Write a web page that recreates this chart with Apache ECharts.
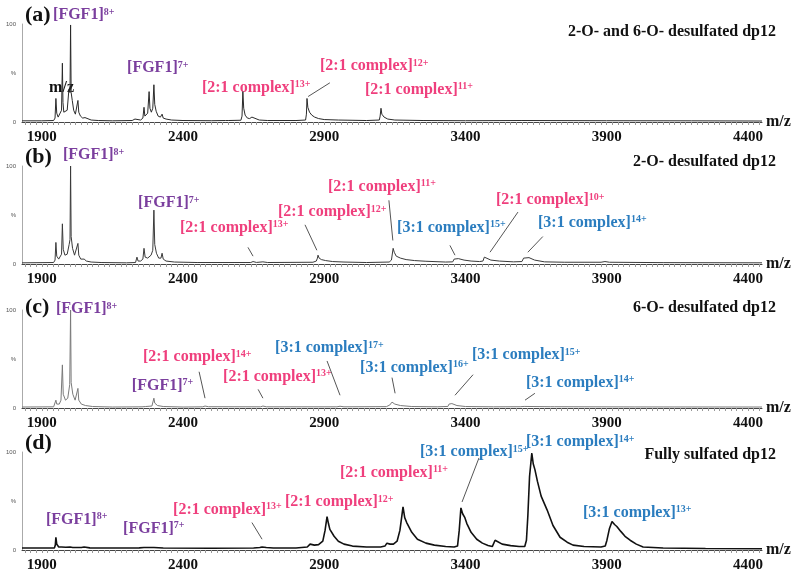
<!DOCTYPE html>
<html><head><meta charset="utf-8">
<script src="https://cdn.jsdelivr.net/npm/echarts@6/dist/echarts.min.js"></script>
<style>html,body{margin:0;padding:0;background:#fff}#c{width:800px;height:582px}</style>
</head><body><div id="c"></div>
<script>
const xTickLabels = [1900, 2400, 2900, 3400, 3900, 4400];
const yTickLabels = [0, 50, 100];
const panelLetters = ['(a)', '(b)', '(c)', '(d)'];
const panelTitles = ['2-O- and 6-O- desulfated dp12', '2-O- desulfated dp12', '6-O- desulfated dp12', 'Fully sulfated dp12'];

// spectra: [m/z, relative intensity %]
const specA = [[1830,1.2],[1900,1.2],[1942,1.5],[1947,4],[1950,24],[1953,9],[1958,5],[1964,6],[1970,12],[1973,60],[1975,20],[1978,10],[1984,9],[1990,12],[1996,33],[2000,30],[2002,99],[2004,30],[2008,22],[2013,12],[2019,8],[2024,9],[2028,22],[2031,10],[2037,6],[2045,4],[2053,4.5],[2060,3],[2075,2],[2100,1.5],[2150,1.2],[2220,1.5],[2230,3],[2236,1.5],[2250,2],[2258,4],[2262,15],[2265,6],[2270,6],[2275,9],[2280,31],[2283,14],[2288,10],[2293,14],[2297,38],[2300,18],[2305,11],[2312,6],[2320,5],[2326,8],[2330,4],[2340,3],[2360,2],[2400,1.5],[2500,1.3],[2550,1.5],[2556,3],[2560,1.5],[2605,1.8],[2609,6],[2612,31],[2615,14],[2620,7],[2628,4],[2636,3.5],[2644,5],[2650,3],[2670,2],[2700,1.5],[2800,1.5],[2834,2],[2837,8],[2839,24],[2842,15],[2848,10],[2856,7],[2866,5],[2880,3.5],[2900,2.5],[2950,2],[3050,1.5],[3095,2],[3098,6],[3101,14],[3104,8],[3112,5],[3125,3],[3150,2],[3250,1.5],[3400,1.3],[3600,1.5],[3900,1.3],[4200,1.2],[4450,1]];
const specB = [[1830,1.2],[1942,1.5],[1947,4],[1950,22],[1953,8],[1960,5],[1966,6],[1970,10],[1973,41],[1976,15],[1982,9],[1990,10],[1997,20],[2000,25],[2002,100],[2004,28],[2009,16],[2016,9],[2022,8],[2028,21],[2031,9],[2038,5],[2050,5],[2058,3],[2075,2],[2110,1.5],[2200,1.2],[2232,1.5],[2237,7],[2241,3],[2250,3],[2258,5],[2262,16],[2266,7],[2275,6],[2287,9],[2293,14],[2297,55],[2300,20],[2306,11],[2314,6],[2322,6],[2326,11],[2330,5],[2340,3],[2370,2],[2450,1.5],[2640,1.5],[2648,2.5],[2660,1.6],[2683,2.2],[2700,1.5],[2860,1.8],[2872,3],[2876,6],[2878,9],[2882,6],[2890,4.5],[2905,3.5],[2930,2.5],[2970,2],[3050,1.5],[3130,2],[3138,4],[3144,16],[3148,12],[3155,8],[3170,6],[3190,4.5],[3220,3.5],[3260,2.8],[3330,2],[3355,2.2],[3360,5],[3365,7],[3375,5.5],[3395,4],[3420,3],[3450,2.5],[3462,3],[3467,7],[3472,5],[3490,4],[3520,3],[3570,2.2],[3600,2.5],[3606,6],[3613,8],[3625,6.5],[3645,4],[3680,2.2],[3750,1.8],[3880,1.8],[3894,2.5],[3910,1.8],[4100,1.4],[4450,1.2]];
const specC = [[1830,1],[1942,1.2],[1947,3],[1950,8],[1953,4],[1962,4],[1968,8],[1973,44],[1976,14],[1984,8],[1992,10],[1999,24],[2002,100],[2004,26],[2010,14],[2018,8],[2025,9],[2028,20],[2031,8],[2040,4],[2055,2.5],[2080,1.5],[2150,1],[2255,1.2],[2262,3],[2268,1.5],[2290,2],[2297,10],[2300,5],[2310,2.5],[2330,1.5],[2400,1],[2470,1.2],[2478,2],[2490,1.3],[2675,1.2],[2683,2],[2695,1.2],[2945,1.2],[2956,1.8],[2970,1.2],[3120,1.4],[3132,3],[3140,6],[3150,4],[3170,2.5],[3210,1.5],[3300,1.2],[3338,1.6],[3342,4],[3345,6],[3352,4.5],[3370,2.5],[3400,1.5],[3500,1.2],[3594,1.3],[3600,2.5],[3608,1.6],[3700,1.3],[3706,2],[3715,1.3],[4000,1.1],[4450,1]];
const specD = [[1830,2],[1900,2],[1945,2.2],[1948,5],[1950,13],[1953,6],[1960,3],[1970,3],[1977,4],[1985,2.8],[2000,3],[2010,2.5],[2040,2.5],[2050,3],[2070,2.2],[2110,2],[2200,2],[2232,2],[2237,3],[2245,2.2],[2262,2.5],[2297,2.5],[2330,2],[2500,1.8],[2650,2],[2672,2.5],[2680,3],[2695,2.5],[2720,2],[2800,2],[2840,3],[2850,6],[2857,8],[2865,5],[2880,5.5],[2895,9],[2903,20],[2910,34],[2915,27],[2920,21],[2927,19],[2935,14],[2950,9],[2970,6],[3000,4],[3050,3],[3100,3],[3115,4],[3122,7],[3127,8],[3133,6],[3145,6],[3158,9],[3168,20],[3175,35],[3179,44],[3185,33],[3192,28],[3197,26],[3210,18],[3230,11],[3260,7],[3290,5],[3330,3.5],[3360,3],[3372,4],[3378,20],[3384,43],[3390,37],[3398,33],[3405,27],[3420,18],[3440,11],[3460,7],[3480,4.5],[3495,3.5],[3500,5],[3505,10],[3512,8],[3530,6],[3560,4.5],[3590,3.5],[3610,3.5],[3616,10],[3621,35],[3627,75],[3632,90],[3635,99],[3640,88],[3646,82],[3655,70],[3668,55],[3689,41],[3710,25],[3735,13],[3760,8],[3781,5],[3820,3.5],[3880,3],[3895,4],[3901,10],[3910,22],[3919,29],[3928,26],[3936,24],[3950,19],[3965,14],[3983,10],[4005,6],[4029,3],[4100,2],[4250,1.5],[4450,1.3]];

// annotations: [text, superscript, colorKey, m/z (left edge), intensity % (centre)]
const annA = [['[FGF1]','8+','p',1940,109],['m/z','','k',1926,35],['[FGF1]','7+','p',2202,55],['[2:1 complex]','13+','r',2467,35],['[2:1 complex]','12+','r',2885,57],['[2:1 complex]','11+','r',3044,33]];
const annB = [['[FGF1]','8+','p',1975,111],['[FGF1]','7+','p',2241,62],['[2:1 complex]','13+','r',2389,37],['[2:1 complex]','12+','r',2736,53],['[2:1 complex]','11+','r',2913,79],['[3:1 complex]','15+','b',3158,37],['[2:1 complex]','10+','r',3508,65],['[3:1 complex]','14+','b',3657,42]];
const annC = [['[FGF1]','8+','p',1950,101],['[2:1 complex]','14+','r',2258,52],['[FGF1]','7+','p',2219,23],['[2:1 complex]','13+','r',2542,32],['[3:1 complex]','17+','b',2726,61],['[3:1 complex]','16+','b',3027,41],['[3:1 complex]','15+','b',3423,54],['[3:1 complex]','14+','b',3614,26]];
const annD = [['[FGF1]','8+','p',1915,31],['[FGF1]','7+','p',2188,22],['[2:1 complex]','13+','r',2365,41],['[2:1 complex]','12+','r',2761,49],['[2:1 complex]','11+','r',2956,79],['[3:1 complex]','15+','b',3239,100],['[3:1 complex]','14+','b',3614,110],['[3:1 complex]','13+','b',3816,38]];

// leader lines: [mz1, y1, mz2, y2]
const leadA = [[2920,40,2843,26]];
const leadB = [[2630,17,2648,8],[2832,40,2874,14],[3129,65,3143,24],[3345,19,3363,9],[3586,53,3487,12],[3674,28,3621,12]];
const leadC = [[2457,37,2478,10],[2666,19,2683,10],[2910,48,2956,13],[3140,31,3151,15],[3427,34,3363,13],[3646,15,3611,8]];
const leadD = [[2644,28,2680,11],[3448,94,3388,49]];

const specs = [specA, specB, specC, specD];
const anns = [annA, annB, annC, annD];
const leads = [leadA, leadB, leadC, leadD];
const lineColors = ['#2a2a2a', '#3a3a3a', '#7a7a7a', '#111111'];
const lineWidths = [1, 1, 1, 1.6];
const colorMap = {p:'#7b3f9e', r:'#ef3f7d', b:'#2b7dbf', k:'#111111'};

const FONT = '"Liberation Serif","Times New Roman",serif';
const gridTops = [24, 166, 310, 452];
const GH = 98;

const minorTicks = [];
for (let v = 1840; v <= 4440; v += 20) minorTicks.push(v);

const chart = echarts.init(document.getElementById('c'), null, {renderer:'canvas'});

const grids = [], xAxes = [], yAxes = [], series = [];
for (let i = 0; i < 4; i++) {
  grids.push({left:22, right:38, top:gridTops[i], height:GH, containLabel:false});
  xAxes.push({
    type:'value', gridIndex:i, min:1830, max:4450,
    axisLine:{show:true, lineStyle:{color:'#444', width:1}},
    axisTick:{show:true, customValues:minorTicks, length:3, lineStyle:{color:'#999', width:1}},
    minorTick:{show:false},
    axisLabel:{customValues:xTickLabels, formatter:function(v){return String(v);}, fontFamily:FONT, fontWeight:'bold', fontSize:15, color:'#111', margin:8},
    splitLine:{show:false},
    name:'m/z', nameLocation:'end', nameGap:4,
    nameTextStyle:{fontFamily:FONT, fontWeight:'bold', fontSize:16, color:'#111', verticalAlign:'middle', padding:[0,0,12,0]}
  });
  yAxes.push({
    type:'value', gridIndex:i, min:0, max:100, interval:50,
    axisLine:{show:true, lineStyle:{color:'#aaa', width:1}},
    axisTick:{show:false}, splitLine:{show:false},
    axisLabel:{fontSize:6, color:'#555', margin:6, formatter:function(v){return v===50?'%':String(v);}}
  });
  series.push({
    type:'line', xAxisIndex:i, yAxisIndex:i, data:specs[i],
    showSymbol:false, symbol:'none', animation:false, silent:true,
    lineStyle:{color:lineColors[i], width:lineWidths[i]},
    markLine:{
      silent:true, symbol:['none','none'], animation:false,
      lineStyle:{color:'#555', width:1, type:'solid'},
      label:{show:false}, emphasis:{disabled:true},
      data: leads[i].map(function(l){return [{coord:[l[0],l[1]]},{coord:[l[2],l[3]]}];})
    }
  });
}

chart.setOption({animation:false, grid:grids, xAxis:xAxes, yAxis:yAxes, series:series});

const graphics = [];
const letterY = [15, 157, 307, 443];
const titleY = [32, 162, 308, 455];
for (let i = 0; i < 4; i++) {
  graphics.push({type:'text', x:25, y:letterY[i], style:{text:panelLetters[i], font:'bold 22px ' + FONT, fill:'#111', textAlign:'left', textVerticalAlign:'middle'}});
  graphics.push({type:'text', x:776, y:titleY[i], style:{text:panelTitles[i], font:'bold 16px ' + FONT, fill:'#111', textAlign:'right', textVerticalAlign:'middle'}});
  anns[i].forEach(function(a){
    const p = chart.convertToPixel({gridIndex:i}, [a[3], a[4]]);
    const col = colorMap[a[2]];
    graphics.push({type:'text', x:p[0], y:p[1], style:{
      text: a[1] ? '{m|' + a[0] + '}{s|' + a[1] + '}' : '{m|' + a[0] + '}',
      textAlign:'left', textVerticalAlign:'middle',
      rich:{
        m:{fontFamily:FONT, fontWeight:'bold', fontSize:16, fill:col},
        s:{fontFamily:FONT, fontWeight:'bold', fontSize:10, fill:col, verticalAlign:'top'}
      }
    }});
  });
}
chart.setOption({graphic:graphics});
</script>
</body></html>
